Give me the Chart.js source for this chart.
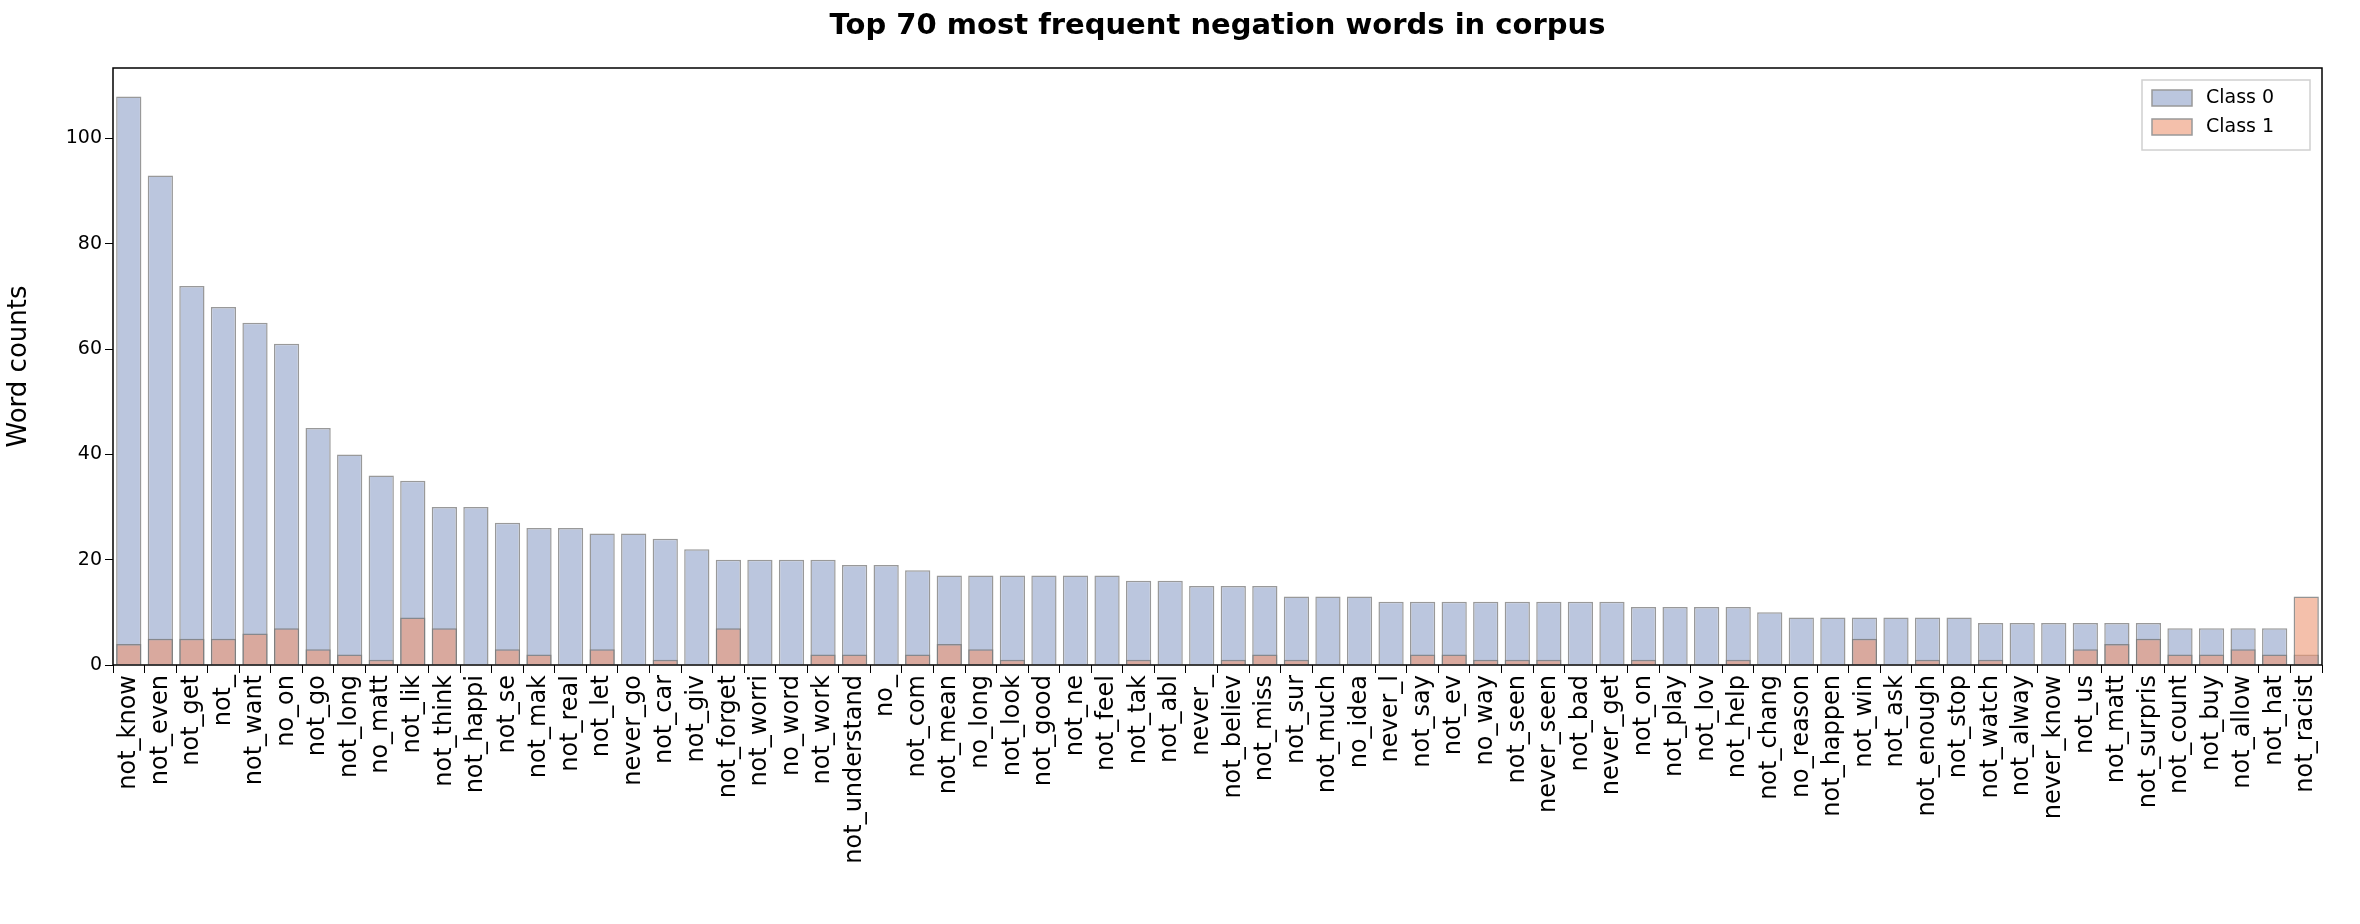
<!DOCTYPE html>
<html>
<head>
    <meta charset="utf-8"/>
    <title>Negation words</title>
    <script src="https://cdn.jsdelivr.net/npm/chart.js@4"></script>
    <style>
        body { margin: 0; background: #fff; }
        .chart-container { width: 2360px; height: 924px; }
    </style>
</head>
<body>
    <div class="chart-container">
        <canvas id="myChart"></canvas>
    </div>
    <script>
        const words = ['not_know','not_even','not_get','not_','not_want','no_on','not_go','not_long','no_matt','not_lik',
            'not_think','not_happi','not_se','not_mak','not_real','not_let','never_go','not_car','not_giv','not_forget',
            'not_worri','no_word','not_work','not_understand','no_','not_com','not_mean','no_long','not_look','not_good',
            'not_ne','not_feel','not_tak','not_abl','never_','not_believ','not_miss','not_sur','not_much','no_idea',
            'never_l','not_say','not_ev','no_way','not_seen','never_seen','not_bad','never_get','not_on','not_play',
            'not_lov','not_help','not_chang','no_reason','not_happen','not_win','not_ask','not_enough','not_stop','not_watch',
            'not_alway','never_know','not_us','not_matt','not_surpris','not_count','not_buy','not_allow','not_hat','not_racist'];
        const class0 = [108,93,72,68,65,61,45,40,36,35,
            30,30,27,26,26,25,25,24,22,20,
            20,20,20,19,19,18,17,17,17,17,
            17,17,16,16,15,15,15,13,13,13,
            12,12,12,12,12,12,12,12,11,11,
            11,11,10,9,9,9,9,9,9,8,
            8,8,8,8,8,7,7,7,7,2];
        const class1 = [4,5,5,5,6,7,3,2,1,9,
            7,0,3,2,0,3,0,1,0,7,
            0,0,2,2,0,2,4,3,1,0,
            0,0,1,0,0,1,2,1,0,0,
            0,2,2,1,1,1,0,0,1,0,
            0,1,0,0,0,5,0,1,0,1,
            0,0,3,4,5,2,2,3,2,13];

        // frame, title and legend box drawn by hand (matplotlib style)
        const frame = {
            id: 'frame',
            afterDraw(chart) {
                const c = chart.ctx, a = chart.chartArea;
                c.save();
                c.strokeStyle = '#000';
                c.lineWidth = 1.5;
                c.strokeRect(a.left, a.top, a.right - a.left, a.bottom - a.top);

                c.fillStyle = '#000';
                c.font = 'bold 29px "DejaVu Sans"';
                c.textAlign = 'center';
                c.textBaseline = 'middle';
                c.fillText('Top 70 most frequent negation words in corpus', (a.left + a.right) / 2, 26);

                const lw = 168, lh = 70, lx = a.right - lw - 12, ly = a.top + 12;
                c.fillStyle = 'rgba(255,255,255,0.8)';
                c.fillRect(lx, ly, lw, lh);
                c.strokeStyle = '#d0d0d0';
                c.lineWidth = 1.5;
                c.strokeRect(lx, ly, lw, lh);
                chart.data.datasets.forEach((ds, i) => {
                    const y = ly + 10 + i * 29;
                    c.fillStyle = '#fff';
                    c.fillRect(lx + 10, y, 40, 16);
                    c.fillStyle = ds.backgroundColor;
                    c.fillRect(lx + 10, y, 40, 16);
                    c.strokeStyle = '#999';
                    c.lineWidth = 1.5;
                    c.strokeRect(lx + 10, y, 40, 16);
                    c.fillStyle = '#000';
                    c.font = '19px "DejaVu Sans"';
                    c.textAlign = 'left';
                    c.fillText(ds.label, lx + 64, y + 8);
                });
                c.restore();
            }
        };

        const ctx = document.getElementById('myChart').getContext('2d');
        new Chart(ctx, {
            type: 'bar',
            data: {
                labels: words,
                datasets: [{
                    label: 'Class 0',
                    data: class0,
                    backgroundColor: '#bbc6de',
                    borderColor: '#999999',
                    borderWidth: 1.5,
                    order: 1,
                }, {
                    label: 'Class 1',
                    data: class1,
                    backgroundColor: 'rgba(236,150,115,0.6)',
                    borderColor: 'rgba(120,120,120,0.8)',
                    borderWidth: 1.5,
                    order: 0,
                }]
            },
            options: {
                responsive: true,
                maintainAspectRatio: false,
                animation: false,
                devicePixelRatio: 1,
                layout: { padding: { top: 68, right: 38, left: 0, bottom: 0 } },
                datasets: { bar: { grouped: false, categoryPercentage: 1, barPercentage: 0.8 } },
                plugins: {
                    tooltip: { enabled: false },
                    legend: { display: false }
                },
                scales: {
                    x: {
                        offset: true,
                        afterFit: s => { s.height = 259; },
                        grid: { display: true, drawOnChartArea: false, tickLength: 8, color: '#000' },
                        border: { display: false },
                        ticks: {
                            autoSkip: false, minRotation: 90, maxRotation: 90,
                            color: '#000', font: { family: 'DejaVu Sans', size: 24 }, padding: 2,
                        }
                    },
                    y: {
                        min: 0,
                        max: 113.4,
                        afterFit: s => { s.width = 113; },
                        afterBuildTicks: s => { s.ticks = [0,20,40,60,80,100].map(v => ({ value: v })); },
                        grid: { display: true, drawOnChartArea: false, tickLength: 8, color: '#000' },
                        border: { display: false },
                        title: { display: true, text: 'Word counts', color: '#000', font: { family: 'DejaVu Sans', size: 26 } },
                        ticks: { color: '#000', font: { family: 'DejaVu Sans', size: 19 } }
                    }
                }
            },
            plugins: [frame]
        });
    </script>
</body>
</html>
